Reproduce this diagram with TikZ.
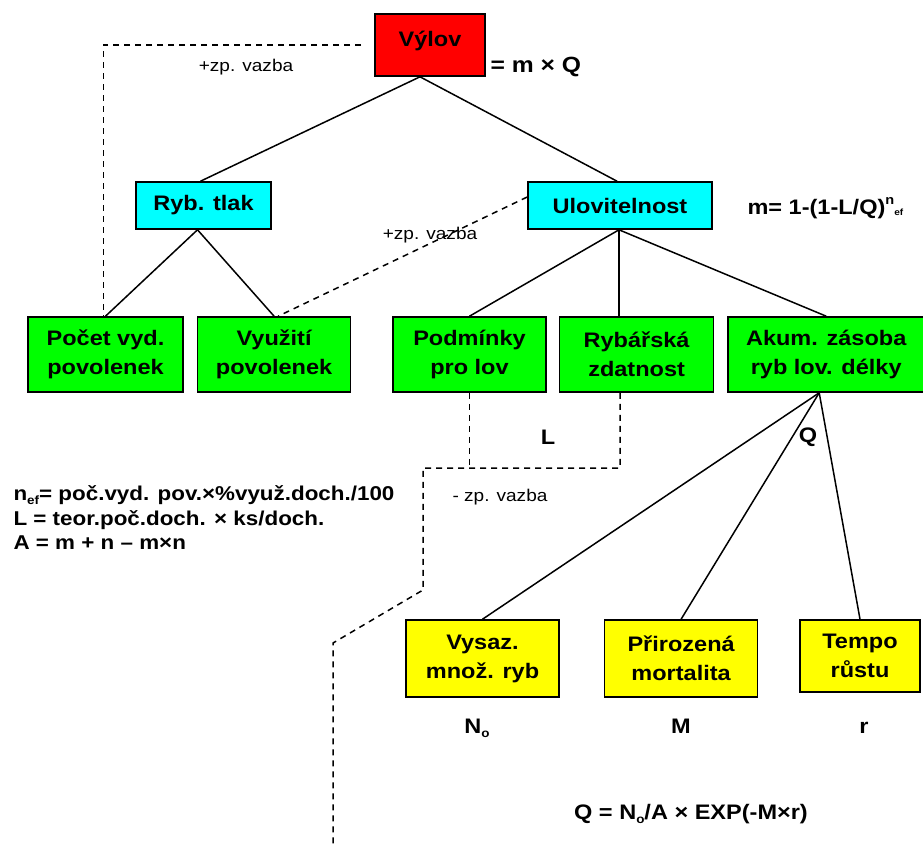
\documentclass[tikz,border=0pt]{standalone}
\usepackage{fontspec}
\setmainfont{Liberation Sans}[FakeStretch=1.12]
\usepackage{tikz}
\usetikzlibrary{positioning}

\definecolor{vylovred}{RGB}{255,0,0}
\definecolor{tlakcyan}{RGB}{0,255,255}
\definecolor{faktgreen}{RGB}{0,255,0}
\definecolor{zasobyellow}{RGB}{255,255,0}

\newcommand{\smallsub}[1]{\raisebox{-0.2em}{\fontsize{12}{12}\selectfont #1}}

\begin{document}
\begin{tikzpicture}[x=1pt, y=-1pt,
    every node/.style={align=center, font=\fontsize{21}{29}\selectfont\bfseries},
    box/.style={draw=black, line width=1.6pt, minimum height=75pt, inner sep=2pt},
    redbox/.style={box, fill=vylovred, minimum height=62pt, text depth=12pt},
    cyanbox/.style={box, fill=tlakcyan, minimum height=47pt},
    greenbox/.style={box, fill=faktgreen},
    yellowbox/.style={box, fill=zasobyellow, minimum height=77pt},
    tie/.style={line width=1.5pt},
    feedback/.style={line width=1.5pt, dash pattern=on 6pt off 5pt},
    note/.style={font=\fontsize{17}{17}\selectfont}]

    \useasboundingbox (0,0) rectangle (923,844);

    \node[redbox, minimum width=110pt] (vylov) at (430,45) {Výlov};
    \node[anchor=west, font=\fontsize{22}{22}\selectfont\bfseries] (vylovf) at (487,67) {= m × Q};

    \node[cyanbox, minimum width=135pt] (rybtlak) at (203.5,205.5) {Ryb. tlak};
    \node[cyanbox, minimum width=184pt] (ulov) at (620,205.5) {Ulovitelnost};
    \node[anchor=west] (ulovf) at (744,208) {m= 1-(1-L/Q)\raisebox{0.45em}{\fontsize{13}{13}\selectfont n}\raisebox{-0.05em}{\fontsize{9}{9}\selectfont ef}};

    \node[greenbox, minimum width=155pt] (pocet) at (105.5,354.5) {Počet vyd.\\povolenek};
    \node[greenbox, minimum width=153pt, right=13pt of pocet] (vyuziti) {Využití\\povolenek};
    \node[greenbox, minimum width=153pt] (podminky) at (469.5,354.5) {Podmínky\\pro lov};
    \node[greenbox, minimum width=154pt, right=12pt of podminky] (rybarska) {Rybářská\\zdatnost};
    \node[greenbox, minimum width=196pt, right=13pt of rybarska] (akum) {Akum. zásoba\\ryb lov. délky};

    \node[yellowbox, minimum width=153pt] (vysaz) at (482.5,658.5) {Vysaz.\\množ. ryb};
    \node[yellowbox, minimum width=153pt, right=44pt of vysaz] (prirozena) {Přirozená\\mortalita};
    \node[yellowbox, minimum width=120pt, minimum height=72pt] (tempo) at (860,656) {Tempo\\růstu};

    \node (lab) at (548,437) {L};
    \node (qab) at (808,437) {Q};
    \node[anchor=base] (nab) at (477,733) {N\smallsub{o}};
    \node[anchor=base] (mab) at (681,733) {M};
    \node[anchor=base] (rab) at (864,733) {r};
    \node[anchor=base] (qf) at (691,819) {Q = N\smallsub{o}/A × EXP(-M×r)};
    \node[anchor=west, align=left, font=\fontsize{20}{24.5}\selectfont\bfseries] (vzorce) at (10,518) {n\smallsub{ef}= poč.vyd. pov.×\%využ.doch./100\\L = teor.poč.doch. × ks/doch.\\A = m + n – m×n};

    \node[note] (zp1) at (246,67) {+zp. vazba};
    \node[note] (zp2) at (430,235) {+zp. vazba};
    \node[note] (zp3) at (500,497) {- zp. vazba};

    \coordinate (fb1) at (423,468);
    \coordinate (fb2) at (423,590);
    \coordinate (fb3) at (333,643);
    \coordinate (fb4) at (333,844);

    \draw[tie] ([xshift=-10pt]vylov.south) -- ([xshift=-3pt]rybtlak.north);
    \draw[tie] ([xshift=-10pt]vylov.south) -- ([xshift=-3pt]ulov.north);
    \draw[tie] ([xshift=-6pt]rybtlak.south) -- (pocet.north);
    \draw[tie] ([xshift=-6pt]rybtlak.south) -- (vyuziti.north);
    \draw[tie] ([xshift=-1pt]ulov.south) -- (podminky.north);
    \draw[tie] ([xshift=-1pt]ulov.south) -- ([xshift=-1pt]ulov.south |- rybarska.north);
    \draw[tie] ([xshift=-1pt]ulov.south) -- (akum.north);
    \draw[tie] ([xshift=-7pt]akum.south) -- (vysaz.north);
    \draw[tie] ([xshift=-7pt]akum.south) -- (prirozena.north);
    \draw[tie] ([xshift=-7pt]akum.south) -- (tempo.north);

    \draw[feedback] ([xshift=-13pt]vylov.west) -| ([xshift=-2pt]pocet.north);
    \draw[feedback] ([yshift=8.5pt]ulov.west) -- ([xshift=4pt]vyuziti.north);
    \draw[feedback] (podminky.south) -- (podminky.south |- fb1);
    \draw[feedback] (ulov.south |- rybarska.south) -- (ulov.south |- fb1) -- (fb1) -- (fb2) -- (fb3) -- (fb4);
\end{tikzpicture}
\end{document}
